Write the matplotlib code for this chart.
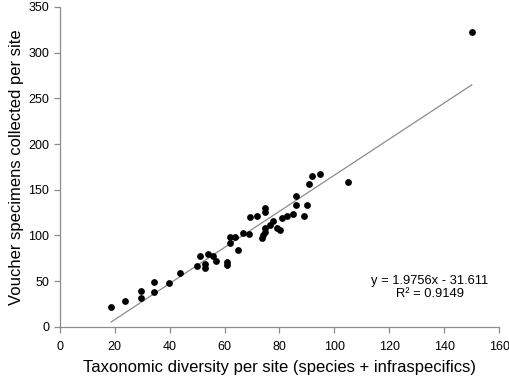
import numpy as np
import matplotlib
matplotlib.use("Agg")
from matplotlib import pyplot as plt

plt.rcParams['font.family'] = ['Liberation Sans', 'DejaVu Sans']

# taxa per site vs voucher specimens per site
taxa = [18.7, 23.8, 29.7, 29.7, 34.5, 34.5, 39.9, 43.8, 49.9, 50.9,
        52.9, 52.9, 54.0, 55.9, 56.9, 60.8, 60.8, 62.0, 62.0, 63.8,
        65.0, 66.8, 68.9, 69.3, 71.9, 73.5, 74.1, 74.7, 74.7, 74.7,
        74.7, 76.5, 77.7, 79.0, 80.2, 80.9, 82.8, 84.8, 85.9, 85.9,
        88.9, 89.9, 90.8, 91.8, 94.9, 104.9, 150.0]
vouchers = [22.2, 28.4, 39.7, 31.4, 49.0, 38.0, 47.8, 59.2, 66.7, 78.0,
            68.6, 64.2, 79.9, 77.7, 72.2, 70.8, 67.8, 92.2, 98.8, 98.8,
            84.2, 103.2, 101.8, 120.7, 121.8, 97.0, 100.0, 104.2, 108.6, 125.5,
            130.5, 111.6, 116.0, 108.6, 106.0, 118.9, 121.8, 123.6, 133.5, 143.3,
            121.8, 133.5, 156.1, 165.2, 167.4, 158.6, 323.0]

slope = 1.9756
intercept = -31.611
r2 = 0.9149

x_ticks = [0, 20, 40, 60, 80, 100, 120, 140, 160]
y_ticks = [0, 50, 100, 150, 200, 250, 300, 350]

fig = plt.figure(figsize=(5.1, 3.81), dpi=100)
ax = fig.add_axes([0.117, 0.142, 0.862, 0.840])

# linear trendline over the data range
xl = np.array([min(taxa), max(taxa)])
ax.plot(xl, slope * xl + intercept, color='#8c8c8c', lw=0.9, zorder=1)
ax.scatter(taxa, vouchers, s=24, color='black', zorder=2, linewidths=0)

ax.set_xlim(0, 160)
ax.set_ylim(0, 350)
ax.set_xticks(x_ticks)
ax.set_yticks(y_ticks)

for side in ['top', 'right']:
    ax.spines[side].set_visible(False)
for side in ['left', 'bottom']:
    ax.spines[side].set_color('#8c8c8c')
    ax.spines[side].set_linewidth(0.9)
ax.tick_params(colors='#8c8c8c', labelcolor='black', labelsize=9,
               direction='out', length=4, width=0.9)
ax.tick_params(axis='x', pad=6)

ax.set_xlabel('Taxonomic diversity per site (species + infraspecifics)',
              fontsize=12, labelpad=5)
ax.set_ylabel('Voucher specimens collected per site', fontsize=12, labelpad=3)

ax.text(134.8, 42.7, f'y = {slope}x - {abs(intercept)}\nR² = {r2}', ha='center',
        va='center', fontsize=9.3, linespacing=1.1)

fig.savefig('out.png', dpi=100)
